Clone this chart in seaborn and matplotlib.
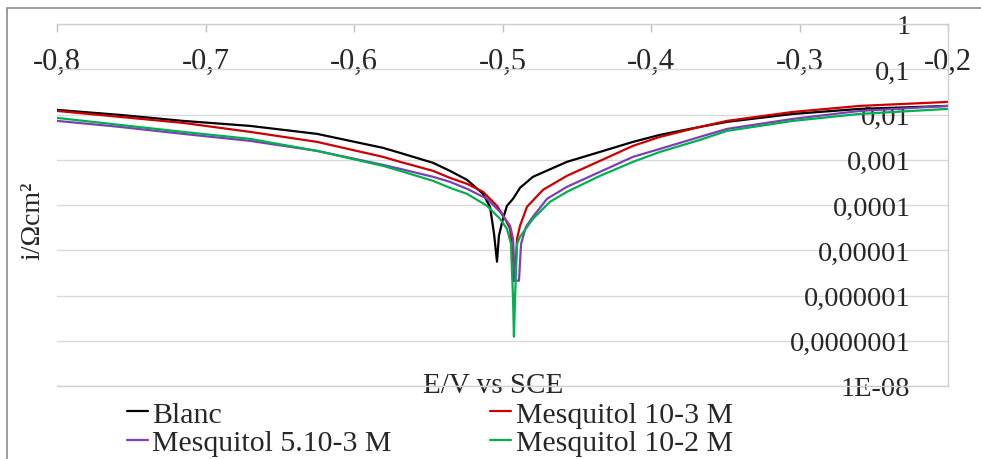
import matplotlib
matplotlib.use('Agg')
import matplotlib.pyplot as plt
import matplotlib.patches as mpatches
from matplotlib.ticker import NullLocator
import numpy as np
import pandas as pd
import seaborn as sns

# Potential (V vs SCE) and log10 of current density
e_blanc = [-0.8000, -0.7576, -0.7152, -0.6700, -0.6249, -0.5805, -0.5690, -0.5468, -0.5354,
           -0.5239, -0.5131, -0.5084, -0.5057, -0.5037, -0.5024, -0.4997, -0.4970, -0.4929,
           -0.4882, -0.4795, -0.4566, -0.4343, -0.4121, -0.3939, -0.3670, -0.3488, -0.3044,
           -0.2593, -0.2000]
log_blanc = [-1.898, -2.009, -2.141, -2.252, -2.428, -2.737, -2.848, -3.068, -3.245,
             -3.444, -3.753, -4.040, -4.636, -5.254, -4.680, -4.305, -4.018, -3.863,
             -3.620, -3.377, -3.046, -2.826, -2.605, -2.450, -2.274, -2.163, -1.987,
             -1.876, -1.810]

e_m1 = [-0.8000, -0.7576, -0.7152, -0.6700, -0.6249, -0.5805, -0.5690, -0.5468, -0.5354,
        -0.5239, -0.5131, -0.5037, -0.4983, -0.4949, -0.4936, -0.4929, -0.4916, -0.4902,
        -0.4882, -0.4835, -0.4727, -0.4566, -0.4343, -0.4121, -0.3939, -0.3670, -0.3488,
        -0.3044, -0.2593, -0.2000]
log_m1 = [-1.921, -2.053, -2.185, -2.384, -2.605, -2.936, -3.046, -3.245, -3.400,
          -3.532, -3.709, -4.018, -4.305, -4.525, -4.967, -5.673, -5.673, -4.746,
          -4.459, -4.040, -3.664, -3.355, -3.024, -2.693, -2.494, -2.274, -2.141,
          -1.943, -1.810, -1.722]

e_m2 = [-0.8000, -0.7576, -0.7152, -0.6700, -0.6249, -0.5805, -0.5690, -0.5468, -0.5354,
        -0.5239, -0.5104, -0.5017, -0.4949, -0.4929, -0.4916, -0.4889, -0.4875, -0.4842,
        -0.4795, -0.4700, -0.4566, -0.4343, -0.4121, -0.3939, -0.3670, -0.3488, -0.3044,
        -0.2593, -0.2000]
log_m2 = [-2.141, -2.274, -2.428, -2.583, -2.804, -3.113, -3.201, -3.377, -3.488,
          -3.642, -3.863, -4.150, -4.459, -4.746, -5.673, -5.673, -4.857, -4.481,
          -4.260, -3.863, -3.598, -3.267, -2.936, -2.759, -2.494, -2.318, -2.097,
          -1.921, -1.810]

e_m3 = [-0.8000, -0.7576, -0.7152, -0.6700, -0.6249, -0.5805, -0.5690, -0.5468, -0.5354,
        -0.5239, -0.5104, -0.5017, -0.4970, -0.4943, -0.4929, -0.4923, -0.4916, -0.4902,
        -0.4882, -0.4795, -0.4680, -0.4566, -0.4343, -0.4121, -0.3939, -0.3670, -0.3488,
        -0.3044, -0.2593, -0.2000]
log_m3 = [-2.075, -2.230, -2.384, -2.539, -2.804, -3.135, -3.245, -3.466, -3.620,
          -3.753, -4.018, -4.305, -4.525, -4.857, -6.071, -6.909, -6.071, -4.857,
          -4.702, -4.305, -3.929, -3.709, -3.355, -3.046, -2.826, -2.561, -2.362,
          -2.141, -1.987, -1.876]

series_names = ['Blanc', 'Mesquitol 10-3 M', 'Mesquitol 5.10-3 M', 'Mesquitol 10-2 M']
series_colors = ['#000000', '#CC0000', '#7E3FB5', '#00B050']

x_ticks = [-0.8, -0.7, -0.6, -0.5, -0.4, -0.3, -0.2]
x_labels = ['-0,8', '-0,7', '-0,6', '-0,5', '-0,4', '-0,3', '-0,2']
y_ticks = [1, 0.1, 0.01, 0.001, 1e-4, 1e-5, 1e-6, 1e-7, 1e-8]
y_labels = ['1', '0,1', '0,01', '0,001', '0,0001', '0,00001', '0,000001',
            '0,0000001', '1E-08']

frames = []
for name, e, lg in zip(series_names, [e_blanc, e_m1, e_m2, e_m3],
                       [log_blanc, log_m1, log_m2, log_m3]):
    frames.append(pd.DataFrame({'E': e, 'i': np.power(10.0, lg), 'serie': name}))
df = pd.concat(frames, ignore_index=True)

sns.set_style('white')
plt.rcParams['font.family'] = ['Liberation Serif', 'DejaVu Serif']

fig = plt.figure(figsize=(9.81, 4.60), dpi=100)
ax = fig.add_axes([57 / 981, 1 - 387 / 460, 891 / 981, 362 / 460])

sns.lineplot(data=df, x='E', y='i', hue='serie', hue_order=series_names,
             palette=series_colors, estimator=None, sort=False, linewidth=1.6, ax=ax)

ax.set_yscale('log')
ax.set_xlim(-0.8, -0.2)
ax.set_ylim(1e-8, 1)
ax.yaxis.set_minor_locator(NullLocator())
ax.set_yticks(y_ticks, y_labels)
ax.set_xticks(x_ticks, x_labels)
ax.grid(axis='y', color='#d9d9d9', linewidth=1)
ax.grid(axis='x', visible=False)

# x axis sits on top, labels drawn inside the plot
ax.xaxis.tick_top()
ax.tick_params(axis='x', direction='in', length=6, color='#bfbfbf', width=1,
               labelsize=22, pad=-37)
# y labels on the right, right aligned inside the plot
ax.yaxis.tick_right()
ax.tick_params(axis='y', length=0, labelsize=20.5, pad=-27)
for lab in ax.get_yticklabels():
    lab.set_horizontalalignment('right')

ax.spines['left'].set_visible(False)
for side in ['top', 'right', 'bottom']:
    ax.spines[side].set_color('#d0d0d0')
    ax.spines[side].set_linewidth(1)

ax.set_xlabel('E/V vs SCE', fontsize=21)
ax.xaxis.set_label_position('bottom')
ax.xaxis.set_label_coords(0.49, 0.04)
ax.set_ylabel('i/Ωcm²', fontsize=20)
ax.yaxis.set_label_position('left')
ax.yaxis.set_label_coords(-0.013, 0.46)

# legend rows: Blanc / 10-3 then 5.10-3 / 10-2
handles, labels = ax.get_legend_handles_labels()
order = [0, 2, 1, 3]
ax.get_legend().remove()
fig.legend([handles[k] for k in order], [labels[k] for k in order], ncol=2,
           loc='upper left', bbox_to_anchor=(112 / 981, 1 - 387 / 460),
           frameon=False, fontsize=21.5, handlelength=0.7, handletextpad=0.15,
           columnspacing=3.3, labelspacing=0.05, borderpad=0)

# outer chart border
fig.patches.append(mpatches.Rectangle((7 / 981, -0.05), 1.2, 1 - 9 / 460 + 0.05,
                                      transform=fig.transFigure, fill=False,
                                      edgecolor='#8c8c8c', linewidth=1.2))

fig.savefig('out.png', dpi=100)
